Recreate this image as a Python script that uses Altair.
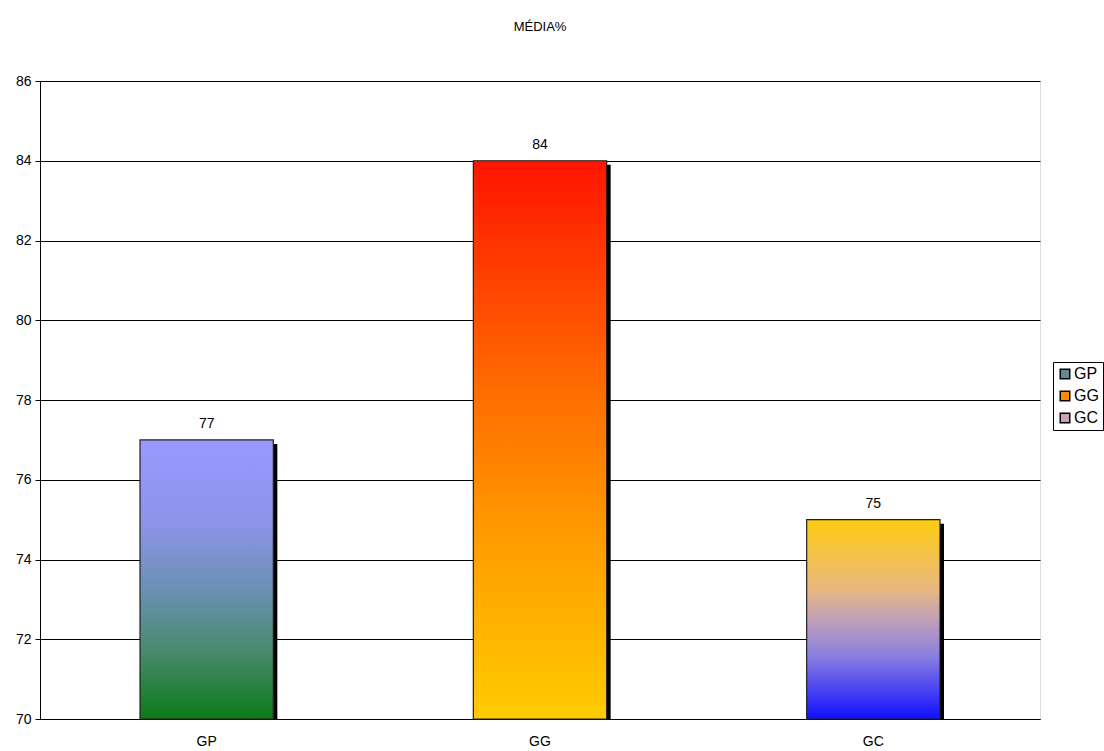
import altair as alt
import pandas as pd

categories = ["GP", "GG", "GC"]
values = [77, 84, 75]
legend_colors = ["#5F8A9A", "#FF8A00", "#C8A0C0"]
gradients = {
    "GP": [("#9999FF", 0.0), ("#8C94E8", 0.3), ("#6890B0", 0.55), ("#4A8A70", 0.75), ("#0C7A18", 1.0)],
    "GG": [("#FF1400", 0.0), ("#FF6A00", 0.4), ("#FFA000", 0.7), ("#FFCC00", 1.0)],
    "GC": [("#FFCC10", 0.0), ("#E8B880", 0.35), ("#C0A0B8", 0.5), ("#8C80E0", 0.68), ("#1010FF", 1.0)],
}

df = pd.DataFrame({"cat": categories, "val": values, "base": [70] * 3})

FONT = "Liberation Sans"

x = alt.X("cat:N", sort=categories, title=None,
          scale=alt.Scale(paddingInner=0.6, paddingOuter=0.3),
          axis=alt.Axis(labelAngle=0, ticks=False, labelPadding=15, labelFontSize=14,
                        labelFont=FONT, labelColor="black", domainColor="black"))
y = alt.Y("val:Q", title=None,
          scale=alt.Scale(domain=[70, 86], nice=False, zero=False),
          axis=alt.Axis(values=list(range(70, 87, 2)), tickSize=5, tickColor="black",
                        labelPadding=4, labelFontSize=14, labelFont=FONT, labelColor="black",
                        domainColor="black", gridColor="black", gridOpacity=1, gridWidth=1))

base = alt.Chart(df)

shadow = base.mark_bar(color="black", xOffset=4, yOffset=4, clip=True).encode(
    x=x, y=y, y2="base:Q")

legend_layer = base.mark_bar().encode(
    x=x, y=y, y2="base:Q",
    color=alt.Color("cat:N", sort=categories, title=None,
                    scale=alt.Scale(domain=categories, range=legend_colors),
                    legend=alt.Legend(orient="none", legendX=1013, legendY=281,
                                      symbolType="square", symbolSize=90,
                                      symbolStrokeColor="black", symbolStrokeWidth=1.5,
                                      symbolOpacity=1,
                                      labelFontSize=16, labelFont=FONT, labelColor="black",
                                      strokeColor="black", fillColor="white",
                                      padding=4, rowPadding=6, labelOffset=1)))

grad_layers = []
for c in categories:
    stops = [alt.GradientStop(color=col, offset=off) for col, off in gradients[c]]
    g = alt.Gradient(gradient="linear", stops=stops, x1=0, x2=0, y1=0, y2=1)
    grad_layers.append(
        base.transform_filter(alt.datum.cat == c).mark_bar(
            color=g, stroke="#222222", strokeWidth=1.2
        ).encode(x=x, y=y, y2="base:Q")
    )

labels = base.mark_text(baseline="bottom", dy=-9, fontSize=14, font=FONT, color="black").encode(
    x=x, y=y, text="val:Q")

chart = alt.layer(shadow, legend_layer, *grad_layers, labels).properties(
    width=1000, height=638,
    title=alt.TitleParams("MÉDIA%", fontSize=13, font=FONT,
                          fontWeight="normal", anchor="middle", offset=40, color="black"),
    autosize=alt.AutoSizeParams(type="none"),
    padding={"left": 40, "top": 81, "right": 64, "bottom": 32},
).configure_view(stroke="black", strokeWidth=1, strokeOpacity=1).configure(background="white")

chart.save("out.html", embed_options={"renderer": "svg", "actions": False})
